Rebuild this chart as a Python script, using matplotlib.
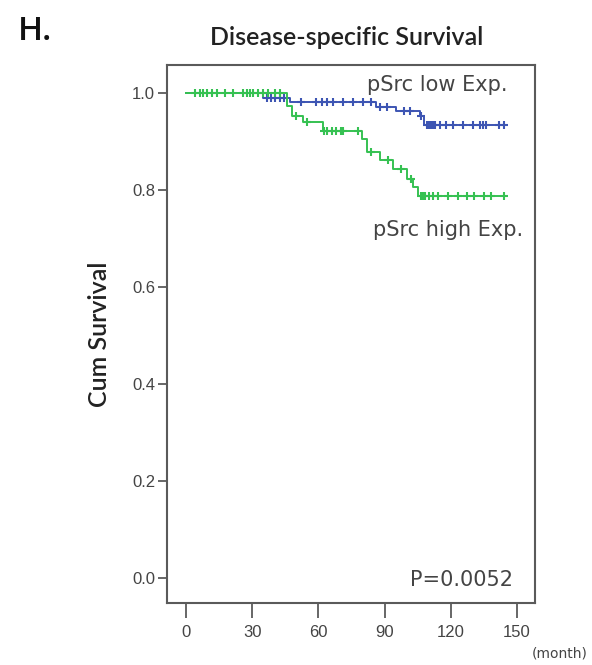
import numpy as np
import matplotlib
matplotlib.use("Agg")
import matplotlib.pyplot as plt

# Kaplan-Meier step values (months, cumulative survival)
low_times = [0, 35, 47, 86, 95, 106, 108, 144]
low_surv = [1.0, 0.989, 0.982, 0.971, 0.963, 0.953, 0.935, 0.935]
low_censor = [36.5, 38.5, 40.5, 42.5, 44.5, 52, 59, 61.5, 63.7, 66.7, 71.3,
              75.8, 80.3, 84, 88, 91, 98.8, 101.7, 106.6, 109, 110, 111,
              112, 113, 115, 118, 121, 125.7, 130, 133, 134.5, 136, 142, 144]

high_times = [0, 45.6, 47.9, 53, 62.2, 79.6, 81.9, 87.9, 94, 100, 103, 105.3, 144]
high_surv = [1.0, 0.974, 0.953, 0.94, 0.922, 0.905, 0.878, 0.862, 0.843,
             0.822, 0.806, 0.787, 0.787]
high_censor = [4, 6.3, 7.9, 9.4, 11.6, 13.9, 17.7, 21.4, 26, 27.5, 29, 30.5,
               32.8, 35, 37.3, 40.3, 42.6, 50, 55, 62.5, 64, 66, 68, 70, 71,
               78, 84, 91.4, 97.4, 101.9, 106.6, 107.5, 108.5, 110, 112, 114,
               118.5, 123, 127.5, 130.5, 135, 138, 144]

xticks = [0, 30, 60, 90, 120, 150]
yticks = [0.0, 0.2, 0.4, 0.6, 0.8, 1.0]

low_color = "#3d55b3"
high_color = "#36c152"
text_gray = "#444444"
axis_gray = "#5a5a5a"


def step_value(times, surv, t):
    idx = np.searchsorted(times, t, side="right") - 1
    return np.asarray(surv)[idx]


fig = plt.figure(figsize=(5.92, 6.65), dpi=100)
ax = fig.add_axes([0.2821, 0.0932, 0.6216, 0.8091])

for times, surv, cens, col in [(low_times, low_surv, low_censor, low_color),
                               (high_times, high_surv, high_censor, high_color)]:
    ax.step(times, surv, where="post", color=col, lw=1.4)
    ax.plot(cens, step_value(times, surv, cens), ls="none", marker="+",
            ms=6, mew=1.5, color=col)

ax.set_xlim(-8.6, 158.1)
ax.set_ylim(-0.052, 1.058)
ax.set_xticks(xticks)
ax.set_yticks(yticks)
ax.set_yticklabels([f"{v:.1f}" for v in yticks])
ax.tick_params(direction="out", width=1.3, colors=axis_gray,
               labelcolor=text_gray, labelsize=12)
ax.tick_params(axis="x", length=11, pad=5)
ax.tick_params(axis="y", length=6.5, pad=2)
for lab in ax.get_xticklabels() + ax.get_yticklabels():
    lab.set_family("Liberation Sans")
for s in ax.spines.values():
    s.set_color(axis_gray)
    s.set_linewidth(1.5)

ax.set_ylabel("Cum Survival", family="Lato", fontweight="semibold", fontsize=18,
              color="#222222", labelpad=15)
fig.text(0.586, 0.944, "Disease-specific Survival", family="Lato",
         fontweight="semibold", fontsize=18, color="#222222", ha="center",
         va="center")
fig.text(0.03, 0.952, "H.", family="Open Sans", fontweight="semibold",
         fontsize=24, color="#111111", va="center")

fig.text(0.858, 0.872, "pSrc low Exp.", ha="right", va="center",
         fontsize=15, color=text_gray)
fig.text(0.883, 0.654, "pSrc high Exp.", ha="right", va="center",
         fontsize=15, color=text_gray)
fig.text(0.867, 0.128, "P=0.0052", ha="right", va="center",
         fontsize=15, color=text_gray)
fig.text(0.992, 0.018, "(month)", fontsize=10, color=text_gray, ha="right",
         va="center")

fig.savefig("out.png", dpi=100)
